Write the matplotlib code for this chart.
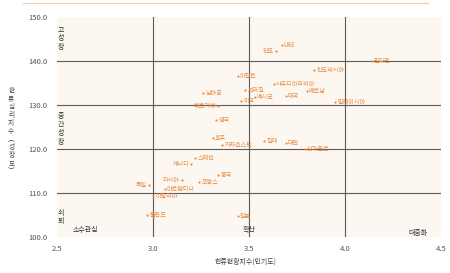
import matplotlib
matplotlib.use("Agg")
import matplotlib.pyplot as plt

plt.rcParams['font.family'] = ['Noto Sans CJK KR', 'DejaVu Sans']

# 국가별 한류현황지수(인기도) / 한류심리지수(성장도)
countries = ["인도", "UAE", "필리핀", "인도네시아", "사우디아라비아", "베트남", "말레이시아",
             "이집트", "남아공", "브라질", "멕시코", "태국", "미국", "튀르키예", "영국",
             "호주", "카자흐스탄", "칠레", "대만", "싱가포르", "스페인", "캐나다", "중국",
             "프랑스", "러시아", "아르헨티나", "독일", "이탈리아", "폴란드", "일본"]
popularity = [3.64, 3.67, 4.14, 3.84, 3.63, 3.80, 3.95,
              3.44, 3.26, 3.48, 3.53, 3.69, 3.46, 3.34, 3.33,
              3.31, 3.36, 3.58, 3.69, 3.79, 3.22, 3.20, 3.34,
              3.24, 3.15, 3.06, 2.98, 3.00, 2.97, 3.44]
growth = [142.3, 143.6, 140.0, 138.0, 134.8, 133.2, 130.7,
          136.6, 132.7, 133.4, 131.8, 132.0, 130.9, 129.8, 126.6,
          122.5, 120.9, 121.8, 121.4, 120.0, 117.9, 116.6, 114.1,
          112.5, 113.0, 110.9, 111.8, 109.2, 105.0, 104.8]
left_labeled = {"인도", "튀르키예", "캐나다", "러시아", "독일"}

x_ticks = [2.5, 3.0, 3.5, 4.0, 4.5]
y_ticks = [100, 110, 120, 130, 140, 150]
x_lines = [3.0, 3.5, 4.0]
y_lines = [110, 120, 130, 140]

orange = "#E8893F"
grid_c = "#5a5a5a"

fig = plt.figure(figsize=(4.5, 2.73), dpi=100)
fig.patch.set_facecolor("white")
ax = fig.add_axes([0.127, 0.132, 0.853, 0.806])
ax.set_facecolor("#FDF7F1")
ax.set_xlim(2.5, 4.5)
ax.set_ylim(100, 150)
for s in ax.spines.values():
    s.set_visible(False)

for xv in x_lines:
    ax.axvline(xv, color=grid_c, lw=0.8, zorder=1)
for yv in y_lines:
    ax.axhline(yv, color=grid_c, lw=0.8, zorder=1)

ax.scatter(popularity, growth, s=2.5, color=orange, zorder=3, linewidths=0)
for name, xv, yv in zip(countries, popularity, growth):
    if name in left_labeled:
        ax.annotate(name, (xv, yv), xytext=(-1.5, 0), textcoords="offset points",
                    ha="right", va="center", fontsize=4.4, color=orange, zorder=4)
    else:
        ax.annotate(name, (xv, yv), xytext=(1.5, 0), textcoords="offset points",
                    ha="left", va="center", fontsize=4.4, color=orange, zorder=4)

ax.set_xticks(x_ticks)
ax.set_xticklabels([f"{v:.1f}" for v in x_ticks])
ax.set_yticks(y_ticks)
ax.set_yticklabels([f"{v:.1f}" for v in y_ticks])
ax.tick_params(length=0, labelsize=5.5, labelcolor="#555555", pad=7)
ax.tick_params(axis="x", pad=6)

# quadrant labels
qkw = dict(fontsize=5, color="#333333", ha="center", va="center", linespacing=1.1)
ax.text(2.52, 145.2, "고\n성\n장", **qkw)
ax.text(2.52, 124.5, "중\n간\n성\n장", **qkw)
ax.text(2.52, 104.5, "쇠\n퇴", **qkw)
ax.text(2.645, 101.6, "소수관심", fontsize=5, color="#333333", ha="center", va="center")
ax.text(3.5, 101.6, "확산", fontsize=5, color="#333333", ha="center", va="center")
ax.text(4.38, 100.8, "대중화", fontsize=5, color="#333333", ha="center", va="center")

# axis titles
fig.text(0.545, 0.04, "한류현황지수(인기도)", fontsize=5, color="#444444", ha="center", va="center")
fig.text(0.025, 0.52, "\n".join(list("한류심리지수") + ["︵", "성", "장", "도", "︶"]),
         fontsize=4.8, color="#444444", ha="center", va="center", linespacing=1.0)

# thin accent line at top
fig.add_artist(plt.Line2D([0.05, 0.95], [0.988, 0.988], color="#F4C9A6", lw=0.8))

fig.savefig("out.png", dpi=100)
